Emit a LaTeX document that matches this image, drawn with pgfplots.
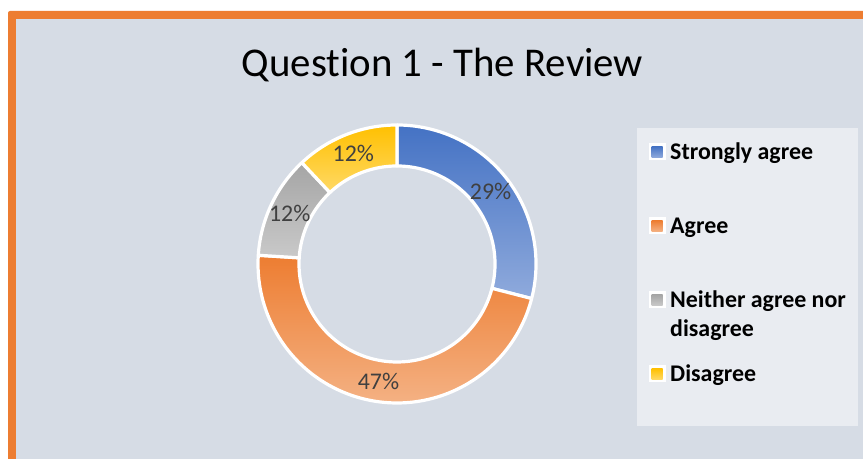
\documentclass[border=0pt]{standalone}
\usepackage{pgfplots}
\pgfplotsset{compat=1.18}
\usepackage{pgfplotstable}
\usepackage{fontspec}
\setmainfont{Carlito}[Ligatures={NoCommon}]
\definecolor{bgcol}{HTML}{D6DCE5}
\definecolor{legbg}{HTML}{E9ECF1}
\definecolor{frame}{HTML}{ED7D31}
\definecolor{blueT}{HTML}{4472C4}
\definecolor{blueB}{HTML}{8FAADC}
\definecolor{oranT}{HTML}{ED7D31}
\definecolor{oranB}{HTML}{F4B183}
\definecolor{grayT}{HTML}{A5A5A5}
\definecolor{grayB}{HTML}{C9C9C9}
\definecolor{goldT}{HTML}{FFC000}
\definecolor{goldB}{HTML}{FFD966}
\definecolor{lbl}{HTML}{404040}

\pgfplotstableread{
label value
SA 29
A 47
N 12
D 12
}\datatable

\newcommand\sector[4]{%
  \addplot[draw=white, line width=3.2bp, line join=round, top color=#3, bottom color=#4,
    samples at={0,1,...,202}]
  ({397+((x<=100.5 || x>=201.5) ? 139 : 98)*cos((x<=100.5) ? (#1+(#2-#1)*x/100) : (#2-(#2-#1)*min(x-101,100)/100))},
   {195+((x<=100.5 || x>=201.5) ? 139 : 98)*sin((x<=100.5) ? (#1+(#2-#1)*x/100) : (#2-(#2-#1)*min(x-101,100)/100))});
}

\begin{document}%
\begin{tikzpicture}[x=1bp,y=1bp]
\pgfplotstablegetelem{0}{value}\of\datatable\edef\vA{\pgfplotsretval}
\pgfplotstablegetelem{1}{value}\of\datatable\edef\vB{\pgfplotsretval}
\pgfplotstablegetelem{2}{value}\of\datatable\edef\vC{\pgfplotsretval}
\pgfplotstablegetelem{3}{value}\of\datatable\edef\vD{\pgfplotsretval}
\pgfmathsetmacro\aZero{90}
\pgfmathsetmacro\aOne{\aZero-3.6*\vA}
\pgfmathsetmacro\aTwo{\aOne-3.6*\vB}
\pgfmathsetmacro\aThree{\aTwo-3.6*\vC}
\pgfmathsetmacro\aFour{\aThree-3.6*\vD}
\pgfmathsetmacro\mA{(\aZero+\aOne)/2}
\pgfmathsetmacro\mB{(\aOne+\aTwo)/2}
\pgfmathsetmacro\mC{(\aTwo+\aThree)/2}
\pgfmathsetmacro\mD{(\aThree+\aFour)/2}
\path[use as bounding box] (0,0) rectangle (863,459);
\fill[white] (0,0) rectangle (863,459);
\fill[frame, rounded corners=2bp] (8,-10) rectangle (880,448);
\fill[bgcol] (16,-10) rectangle (880,440);
% legend box
\fill[legbg] (637,33) rectangle (858,331);
\begin{axis}[at={(0,0)}, anchor=south west, scale only axis,
  width=863bp, height=459bp, xmin=0, xmax=863, ymin=0, ymax=459,
  hide axis, clip=false]
\sector{\aZero}{\aOne}{blueT}{blueB}
\sector{\aOne}{\aTwo}{oranT}{oranB}
\sector{\aTwo}{\aThree}{grayT}{grayB}
\sector{\aThree}{\aFour}{goldT}{goldB}
\node[font=\fontsize{24}{28}\selectfont, text=lbl] at (axis cs:{397+118.5*cos(\mA)},{195+118.5*sin(\mA)}) {\vA\%};
\node[font=\fontsize{24}{28}\selectfont, text=lbl] at (axis cs:{397+118.5*cos(\mB)},{195+118.5*sin(\mB)}) {\vB\%};
\node[font=\fontsize{24}{28}\selectfont, text=lbl] at (axis cs:{397+118.5*cos(\mC)},{195+118.5*sin(\mC)}) {\vC\%};
\node[font=\fontsize{24}{28}\selectfont, text=lbl] at (axis cs:{397+118.5*cos(\mD)},{195+118.5*sin(\mD)}) {\vD\%};
\end{axis}
% title
\node[anchor=base, font=\fontsize{41}{48}\selectfont, inner sep=0pt] at (442.5,382) {Question 1 - The Review};
% legend entries
\foreach \yc/\ct/\cb/\txt in {307/blueT/blueB/Strongly agree, 233/oranT/oranB/Agree, 159/grayT/grayB/Neither agree nor, 85/goldT/goldB/Disagree}{
  \fill[white] (648.5,\yc-8.5) rectangle (665.5,\yc+8.5);
  \shade[top color=\ct, bottom color=\cb] (651.5,\yc-5.5) rectangle (662.5,\yc+5.5);
  \node[anchor=base west, inner sep=0pt, font=\fontsize{24}{29}\selectfont\bfseries] at (670,\yc-7.5) {\txt};
}
\node[anchor=base west, inner sep=0pt, font=\fontsize{24}{29}\selectfont\bfseries] at (670,159-7.5-29) {disagree};
\end{tikzpicture}%
\end{document}
